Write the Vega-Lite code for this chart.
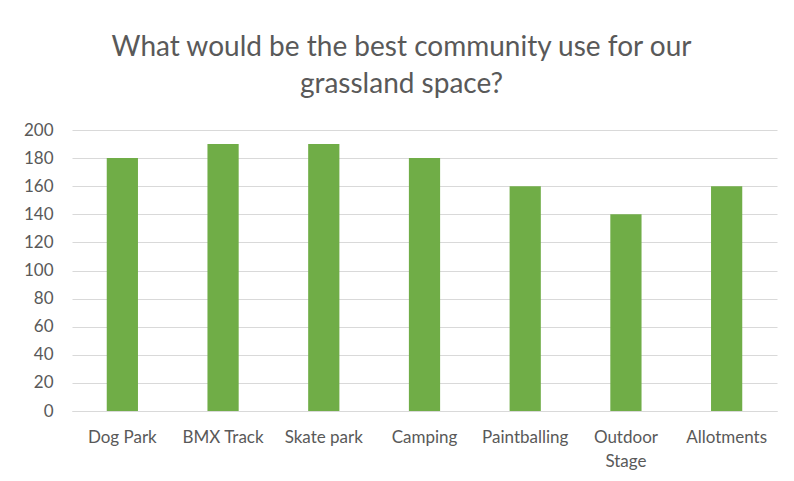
{
  "$schema": "https://vega.github.io/schema/vega-lite/v6.json",
  "autosize": "none",
  "width": 705,
  "height": 281,
  "padding": {"left": 72, "top": 130, "right": 17, "bottom": 70},
  "background": "white",
  "title": {
    "text": ["What would be the best community use for our", "grassland space?"],
    "font": "Lato",
    "fontSize": 28,
    "fontWeight": "normal",
    "color": "#595959",
    "lineHeight": 37,
    "anchor": "middle",
    "dx": -23,
    "offset": 22
  },
  "data": {
    "values": [
      {"use": "Dog Park", "count": 180},
      {"use": "BMX Track", "count": 190},
      {"use": "Skate park", "count": 190},
      {"use": "Camping", "count": 180},
      {"use": "Paintballing", "count": 160},
      {"use": "Outdoor Stage", "count": 140},
      {"use": "Allotments", "count": 160}
    ]
  },
  "mark": {"type": "bar", "color": "#70ad47"},
  "encoding": {
    "x": {
      "field": "use",
      "type": "nominal",
      "sort": null,
      "title": null,
      "scale": {"paddingInner": 0.69, "paddingOuter": 0.345},
      "axis": {
        "labelAngle": 0,
        "labelFont": "Lato",
        "labelFontSize": 17,
        "labelColor": "#595959",
        "labelPadding": 18,
        "labelLineHeight": 24,
        "ticks": false,
        "domainColor": "#d9d9d9",
        "labelExpr": "datum.value == 'Outdoor Stage' ? ['Outdoor', 'Stage'] : datum.value"
      }
    },
    "y": {
      "field": "count",
      "type": "quantitative",
      "title": null,
      "scale": {"domain": [0, 200]},
      "axis": {
        "values": [0, 20, 40, 60, 80, 100, 120, 140, 160, 180, 200],
        "labelFont": "Lato",
        "labelFontSize": 17,
        "labelColor": "#595959",
        "labelPadding": 19,
        "ticks": false,
        "domain": false,
        "gridColor": "#d9d9d9"
      }
    }
  },
  "config": {"view": {"stroke": null}}
}
